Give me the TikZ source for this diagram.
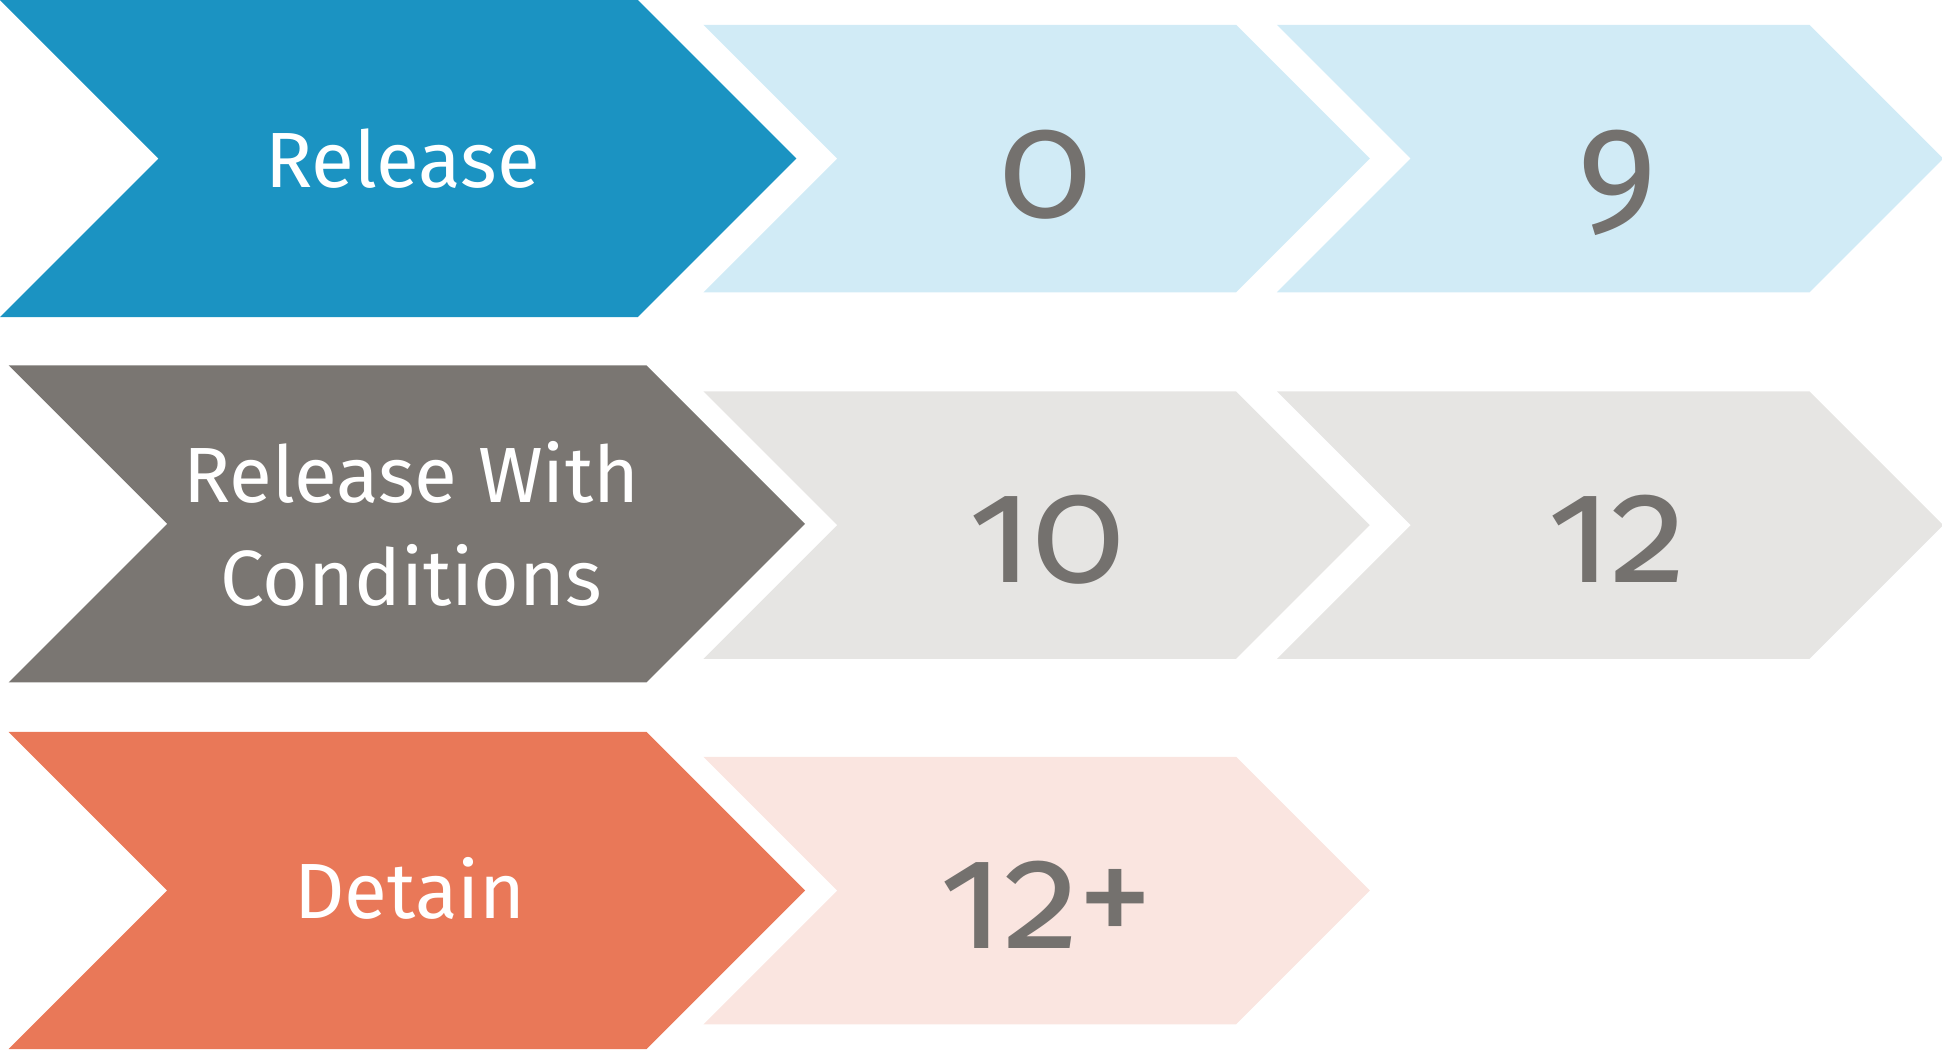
\documentclass[tikz,border=0pt]{standalone}
\usepackage{fontspec}
\setmainfont{Fira Sans}[Numbers=OldStyle]
\definecolor{relblue}{HTML}{1B93C2}
\definecolor{relgray}{HTML}{7A7672}
\definecolor{detorange}{HTML}{E97858}
\definecolor{paleblue}{HTML}{D1EBF6}
\definecolor{palegray}{HTML}{E6E5E3}
\definecolor{paleorange}{HTML}{FAE5E0}
\definecolor{numgray}{HTML}{74716E}

% chevron: left, top, width, height, colour
\newcommand{\chevron}[5]{%
  \fill[#5] (#1,#2) -- ++(#3,0) -- ++(#4/2,#4/2) -- ++(-#4/2,#4/2)
    -- ++(-#3,0) -- ++(#4/2,-#4/2) -- cycle;}

\tikzset{
  lbl/.style={text=white, font=\fontsize{36}{47}\selectfont, align=center},
  num/.style={text=numgray, font=\fontsize{70}{80}\selectfont, anchor=base},
}

\begin{document}
\begin{tikzpicture}[x=0.02cm, y=-0.02cm]
   \useasboundingbox (0,0) rectangle (1568,849);

   % release row
   \chevron{0}{0}{515}{256}{relblue}
   \chevron{568}{20}{430}{216}{paleblue}
   \chevron{1031}{20}{430}{216}{paleblue}
   % release with conditions row
   \chevron{7}{295}{515}{256}{relgray}
   \chevron{568}{316}{430}{216}{palegray}
   \chevron{1031}{316}{430}{216}{palegray}
   % detain row
   \chevron{7}{591}{515}{256}{detorange}
   \chevron{568}{611}{430}{216}{paleorange}

   \node[lbl, anchor=base] (release) at (325,151) {Release};
   \node[lbl] (relcond) at (332,423) {Release With\\Conditions};
   \node[lbl, anchor=base] (detain) at (331,742) {Detain};

   \node[num] (relmin) at (844,176) {0};
   \node[num] (relmax) at (1306,176) {9};
   \node[num] (condmin) at (845,470) {10};
   \node[num] (condmax) at (1306,470) {12};
   \node[num] (detmin) at (845,766) {12+};
\end{tikzpicture}
\end{document}
